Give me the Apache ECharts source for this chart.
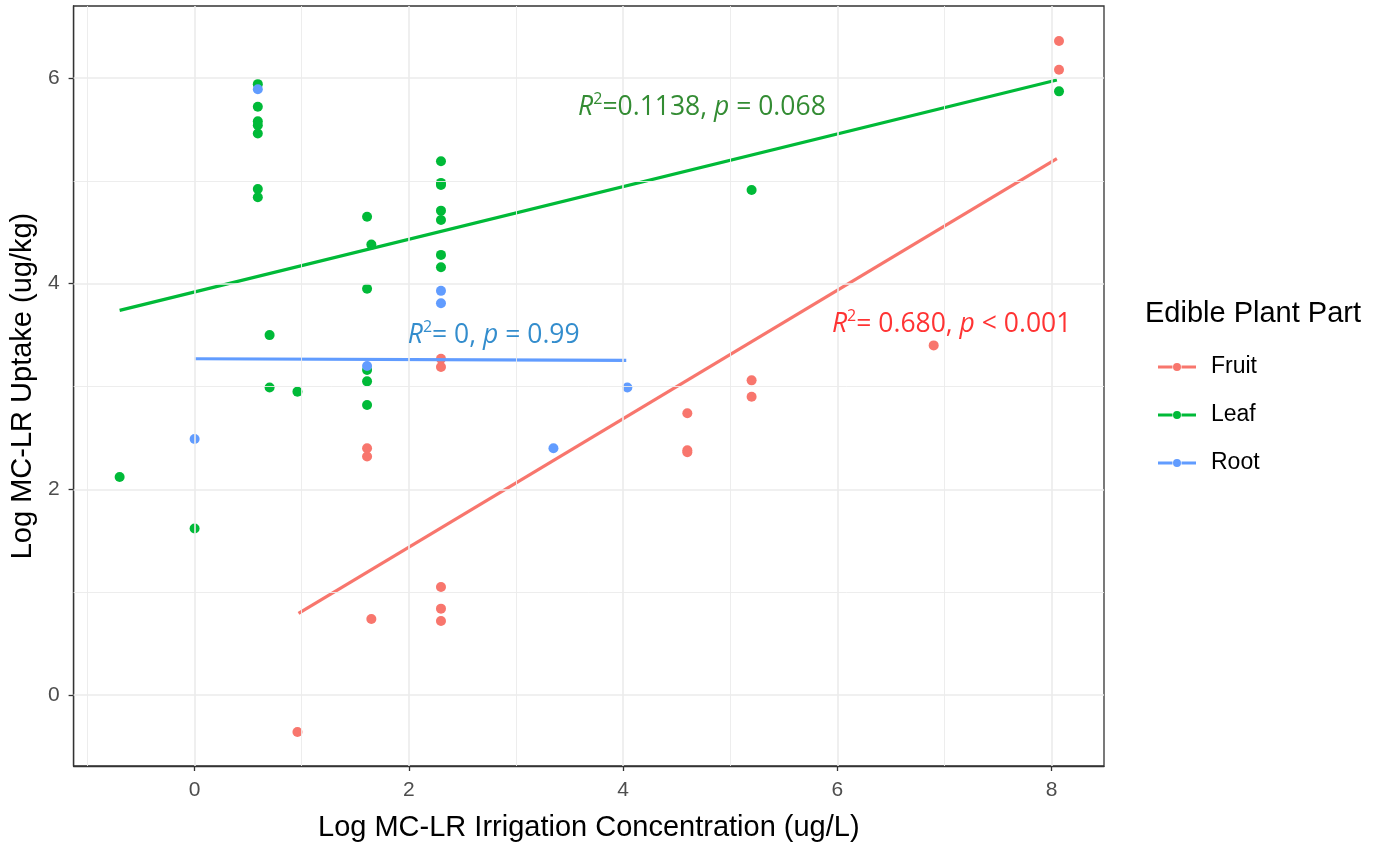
<!DOCTYPE html>
<html>
<head>
<meta charset="utf-8">
<script src="https://cdn.jsdelivr.net/npm/echarts@6/dist/echarts.min.js"></script>
<style>html,body{margin:0;padding:0;background:#fff}#c{width:1387px;height:847px}</style>
</head>
<body>
<div id="c"></div>
<script>
// ---- data (x = Log irrigation conc., y = Log uptake) ----
const fruitPts = [[0.96,-0.36],[1.65,0.74],[2.30,1.05],[2.30,0.84],[2.30,0.72],[1.61,2.40],[1.61,2.32],[2.30,3.27],[2.30,3.19],[4.60,2.74],[4.60,2.38],[4.60,2.36],[5.20,3.06],[5.20,2.90],[6.90,3.40],[8.07,6.36],[8.07,6.08]];
const leafPts = [[-0.70,2.12],[0,1.62],[0.59,5.94],[0.59,5.72],[0.59,5.58],[0.59,5.54],[0.59,5.46],[0.59,4.92],[0.59,4.84],[0.70,3.50],[0.70,2.99],[0.96,2.95],[1.61,4.65],[1.65,4.38],[1.61,3.95],[1.61,3.16],[1.61,3.05],[1.61,2.82],[2.30,5.19],[2.30,4.98],[2.30,4.96],[2.30,4.71],[2.30,4.62],[2.30,4.28],[2.30,4.16],[5.20,4.91],[8.07,5.87]];
const rootPts = [[0,2.49],[0.59,5.89],[1.61,3.20],[2.30,3.93],[2.30,3.81],[3.35,2.40],[4.04,2.99]];
const fruitFit = [[0.97,0.795],[8.05,5.215]];
const leafFit = [[-0.70,3.74],[8.05,5.98]];
const rootFit = [[0,3.27],[4.03,3.255]];
const xTicks = [0,2,4,6,8];
const yTicks = [0,2,4,6];
const xMinor = [-1,1,3,5,7];
const yMinor = [1,3,5];
const annLeaf = [3.58,5.71];
const annRoot = [1.99,3.50];
const annFruit = [5.95,3.60];

const C_FRUIT = '#F8766D', C_LEAF = '#00BA38', C_ROOT = '#619CFF';
const FONT = '"Liberation Sans", Arial, sans-serif';
const ANNFONT = '"Open Sans", "Liberation Sans", sans-serif';

function gridMarkLines() {
  const d = [];
  xMinor.forEach(v => d.push({xAxis: v, lineStyle: {width: 0.9}}));
  yMinor.forEach(v => d.push({yAxis: v, lineStyle: {width: 0.9}}));
  xTicks.forEach(v => d.push({xAxis: v, lineStyle: {width: 1.6}}));
  yTicks.forEach(v => d.push({yAxis: v, lineStyle: {width: 1.6}}));
  return d;
}

function ann(pos, color, rest1, rest2) {
  return {
    type: 'scatter', data: [pos], symbolSize: 0, silent: true, z: 10,
    label: {
      show: true, position: 'right', distance: 0,
      formatter: '{i|R}{s|2}{n|' + rest1 + '}{i|p}{n|' + rest2 + '}',
      rich: {
        i: {fontFamily: ANNFONT, fontSize: 26.5, fontStyle: 'italic', color: color, lineHeight: 32},
        n: {fontFamily: ANNFONT, fontSize: 26.5, color: color, lineHeight: 32},
        s: {fontFamily: ANNFONT, fontSize: 16, color: color, verticalAlign: 'top', lineHeight: 16}
      }
    }
  };
}

const iconPath = 'path://M0,2.5H14.5V5.5H0Z M23.5,2.5H38V5.5H23.5Z M15,4A4,4 0 1,0 23,4A4,4 0 1,0 15,4Z';

const chart = echarts.init(document.getElementById('c'), null, {renderer: 'canvas'});
chart.setOption({
  animation: false,
  backgroundColor: '#fff',
  grid: {left: 73, top: 6, width: 1031, height: 762, show: true, borderColor: '#333', borderWidth: 1.3, backgroundColor: 'transparent', containLabel: false},
  xAxis: {
    type: 'value', min: -1.13, max: 8.49,
    name: 'Log MC-LR Irrigation Concentration (ug/L)', nameLocation: 'middle', nameGap: 47,
    nameTextStyle: {fontFamily: FONT, fontSize: 29, color: '#000'},
    axisLine: {show: true, onZero: false, lineStyle: {color: '#333', width: 1.3}},
    axisTick: {show: true, length: 5, customValues: xTicks, lineStyle: {color: '#333', width: 1.3}},
    axisLabel: {customValues: xTicks, fontFamily: FONT, fontSize: 21, color: '#4D4D4D', margin: 14},
    splitLine: {show: false}
  },
  yAxis: {
    type: 'value', min: -0.69, max: 6.70,
    name: 'Log MC-LR Uptake (ug/kg)', nameLocation: 'middle', nameGap: 36, nameRotate: 90,
    nameTextStyle: {fontFamily: FONT, fontSize: 29, color: '#000'},
    axisLine: {show: true, onZero: false, lineStyle: {color: '#333', width: 1.3}},
    axisTick: {show: true, length: 5, customValues: yTicks, lineStyle: {color: '#333', width: 1.3}},
    axisLabel: {customValues: yTicks, fontFamily: FONT, fontSize: 21, color: '#4D4D4D', margin: 14},
    splitLine: {show: false}
  },
  legend: {
    orient: 'vertical', left: 1153, top: 350,
    data: ['Fruit', 'Leaf', 'Root'],
    icon: iconPath, itemWidth: 38, itemHeight: 8, itemGap: 24,
    textStyle: {fontFamily: FONT, fontSize: 23, color: '#000', lineHeight: 24, padding: [0, 0, 0, 10]},
    selectedMode: false
  },
  graphic: [{
    type: 'text', left: 1145, top: 299,
    style: {text: 'Edible Plant Part', fontFamily: FONT, fontSize: 29, fill: '#000'}
  }],
  series: [
    {type: 'line', data: [], silent: true, z: 0, markLine: {silent: true, symbol: 'none', label: {show: false}, lineStyle: {color: '#EBEBEB', type: 'solid'}, data: gridMarkLines(), animation: false}},
    {name: 'Fruit', type: 'scatter', data: fruitPts, symbolSize: 10, itemStyle: {color: C_FRUIT, opacity: 1}, z: 3},
    {name: 'Leaf', type: 'scatter', data: leafPts, symbolSize: 10, itemStyle: {color: C_LEAF, opacity: 1}, z: 3},
    {name: 'Root', type: 'scatter', data: rootPts, symbolSize: 10, itemStyle: {color: C_ROOT, opacity: 1}, z: 3},
    {name: 'fitFruit', type: 'line', data: fruitFit, symbol: 'none', lineStyle: {color: C_FRUIT, width: 3.2}, z: 4, silent: true},
    {name: 'fitLeaf', type: 'line', data: leafFit, symbol: 'none', lineStyle: {color: C_LEAF, width: 3.2}, z: 4, silent: true},
    {name: 'fitRoot', type: 'line', data: rootFit, symbol: 'none', lineStyle: {color: C_ROOT, width: 3.2}, z: 4, silent: true},
    ann(annLeaf, '#006F00', '=0.1138, ', ' = 0.068'),
    ann(annRoot, '#0070C0', '= 0, ', ' = 0.99'),
    ann(annFruit, '#FF0000', '= 0.680, ', ' < 0.001')
  ]
});
</script>
</body>
</html>
